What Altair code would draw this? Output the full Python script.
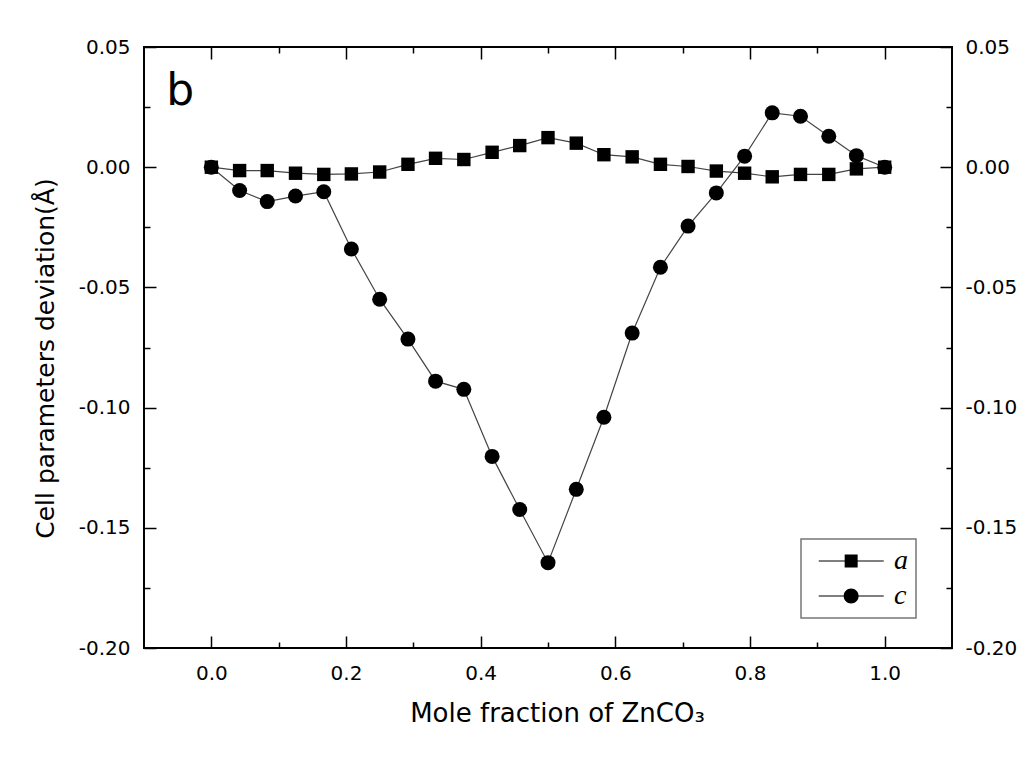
import altair as alt
import pandas as pd

# ---- data ----
x_frac = [0.0, 0.042, 0.083, 0.125, 0.167, 0.208, 0.25, 0.292, 0.333, 0.375,
          0.417, 0.458, 0.5, 0.542, 0.583, 0.625, 0.667, 0.708, 0.75, 0.792,
          0.833, 0.875, 0.917, 0.958, 1.0]
dev_a = [0.0, -0.0014, -0.0014, -0.0025, -0.003, -0.0028, -0.002, 0.0012, 0.0037, 0.0032,
         0.0062, 0.009, 0.0123, 0.0100, 0.0052, 0.0043, 0.0012, 0.0003, -0.0016, -0.0025,
         -0.004, -0.003, -0.003, -0.0007, 0.0]
dev_c = [0.0, -0.0097, -0.0143, -0.012, -0.0102, -0.034, -0.0549, -0.0715, -0.089, -0.0924,
         -0.1203, -0.1424, -0.1645, -0.134, -0.104, -0.069, -0.0416, -0.0245, -0.0107, 0.0046,
         0.0226, 0.0212, 0.0129, 0.0048, 0.0]
series_names = ["a", "c"]

x_major = [0.0, 0.2, 0.4, 0.6, 0.8, 1.0]
x_minor = [0.1, 0.3, 0.5, 0.7, 0.9]
y_major = [-0.2, -0.15, -0.1, -0.05, 0.0, 0.05]
y_minor = [-0.175, -0.125, -0.075, -0.025, 0.025]
x_domain = [-0.1, 1.1]
y_domain = [-0.2, 0.05]

panel_text = ["b"]
panel_x = [-0.067]
panel_y = [0.026]

x_title = "Mole fraction of ZnCO\u2083"
y_title = "Cell parameters deviation(\u00c5)"

df = pd.DataFrame({
    "x": x_frac + x_frac,
    "y": dev_a + dev_c,
    "series": [series_names[0]] * len(x_frac) + [series_names[1]] * len(x_frac),
})
label_df = pd.DataFrame({"x": panel_x, "y": panel_y, "t": panel_text})

xs = alt.Scale(domain=x_domain, nice=False, zero=False)
ys = alt.Scale(domain=y_domain, nice=False, zero=False)

ylab = "replace(format(datum.value, '.2f'), '\u2212', '-')"

MAJ = 12
MIN = 6

# legend symbols: line with marker, drawn as filled custom paths
path_a = ("M-0.39,-0.05H1.97V0.05H-0.39Z"
          "M3.15,-0.05H5.52V0.05H3.15Z"
          "M1.97,-0.59H3.15V0.59H1.97Z")
path_c = ("M-0.39,-0.05H1.88V0.05H-0.39Z"
          "M3.24,-0.05H5.52V0.05H3.24Z"
          "M1.88,0A0.68,0.68,0,1,1,3.24,0A0.68,0.68,0,1,1,1.88,0Z")

lines = alt.Chart(df).mark_line(color="#444444", strokeWidth=1.2).encode(
    x=alt.X("x:Q", scale=xs, title=x_title,
            axis=alt.Axis(orient="bottom", values=x_major, format=".1f",
                          tickSize=MAJ, offset=-MAJ, labelPadding=15,
                          titleX=413, titleY=77, titleBaseline="middle",
                          titleAlign="center", titleFontSize=26)),
    y=alt.Y("y:Q", scale=ys, title=y_title,
            axis=alt.Axis(orient="left", values=y_major, labelExpr=ylab,
                          tickSize=MAJ, offset=-MAJ, labelPadding=14,
                          titleX=-111, titleY=311, titleAngle=270,
                          titleBaseline="middle", titleAlign="center")),
    detail="series:N",
)

points = alt.Chart(df).mark_point(filled=True, opacity=1, color="black", strokeWidth=0).encode(
    x=alt.X("x:Q", scale=xs, title=None,
            axis=alt.Axis(orient="top", values=x_major, labels=False,
                          tickSize=MAJ, offset=-MAJ)),
    y=alt.Y("y:Q", scale=ys, title=None,
            axis=alt.Axis(orient="right", values=y_major, labelExpr=ylab,
                          tickSize=MAJ, offset=-MAJ, labelPadding=13)),
    shape=alt.Shape("series:N", scale=alt.Scale(domain=series_names, range=["square", "circle"]),
                    legend=None),
    size=alt.Size("series:N", scale=alt.Scale(domain=series_names, range=[180, 225]),
                  legend=None),
)

legend_layer = alt.Chart(df).transform_filter("false").mark_point(
    filled=True, opacity=1, color="black", size=484
).encode(
    x=alt.X("x:Q", scale=xs, title=None,
            axis=alt.Axis(orient="bottom", values=x_minor, labels=False,
                          tickSize=MIN, offset=-MIN)),
    y=alt.Y("y:Q", scale=ys, title=None,
            axis=alt.Axis(orient="left", values=y_minor, labels=False,
                          tickSize=MIN, offset=-MIN)),
    shape=alt.Shape("series:N",
                    scale=alt.Scale(domain=series_names, range=[path_a, path_c]),
                    legend=alt.Legend(title=None, orient="none", legendX=657, legendY=492,
                                      padding=8, rowPadding=7, labelOffset=57,
                                      labelFont="Liberation Serif", labelFontStyle="italic",
                                      labelFontSize=28, labelColor="black",
                                      labelExpr="datum.label + ' '",
                                      symbolSize=484, symbolStrokeWidth=0,
                                      symbolFillColor="black",
                                      strokeColor="#777777")),
)

text_layer = alt.Chart(label_df).mark_text(
    font="DejaVu Sans", fontSize=44, align="left", baseline="alphabetic", color="black"
).encode(
    x=alt.X("x:Q", scale=xs, title=None,
            axis=alt.Axis(orient="top", values=x_minor, labels=False,
                          tickSize=MIN, offset=-MIN)),
    y=alt.Y("y:Q", scale=ys, title=None,
            axis=alt.Axis(orient="right", values=y_minor, labels=False,
                          tickSize=MIN, offset=-MIN)),
    text="t:N",
)

chart = alt.layer(lines, points, legend_layer, text_layer).resolve_scale(
    x="independent", y="independent", shape="independent", size="independent"
).properties(
    width=808, height=601,
    autosize=alt.AutoSizeParams(type="none"),
    padding={"left": 136, "top": 39, "right": 74, "bottom": 105},
    background="white",
).configure_view(
    stroke="black", strokeWidth=2
).configure_axis(
    labelFont="DejaVu Sans", labelFontSize=20, labelColor="black",
    titleFont="DejaVu Sans", titleFontSize=25, titleFontWeight="normal", titleColor="black",
    tickColor="black", tickWidth=1.5, domain=False, grid=False,
).configure_legend(
    strokeWidth=1.5
)

chart.save("out.html", embed_options={"renderer": "svg", "actions": False})
